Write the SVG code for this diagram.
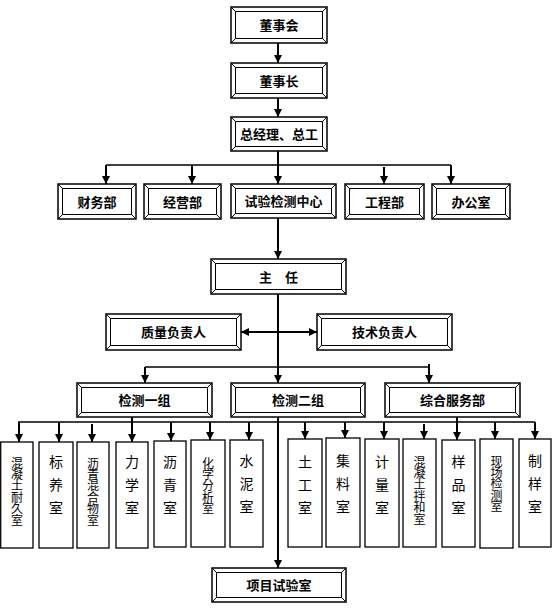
<svg xmlns="http://www.w3.org/2000/svg" width="552" height="608" viewBox="0 0 552 608">
<defs>
<marker id="ah" viewBox="0 0 8 8" refX="8" refY="4" markerWidth="8" markerHeight="8" markerUnits="userSpaceOnUse" orient="auto"><path d="M0,0 L8,4 L0,8 z" fill="#000"/></marker>
<marker id="ah2" viewBox="0 0 8 8" refX="8" refY="4" markerWidth="8" markerHeight="8" markerUnits="userSpaceOnUse" orient="auto-start-reverse"><path d="M0,0 L8,4 L0,8 z" fill="#000"/></marker>
</defs>
<style>
.o{fill:#fff;stroke:#000;stroke-width:1.5}
.i{fill:none;stroke:#000;stroke-width:1}
.d{fill:none;stroke:#000;stroke-width:1}
.s{fill:#fff;stroke:#000;stroke-width:1.3}
.t{font-family:"Noto Sans CJK SC","Noto Sans",sans-serif;font-size:13px;font-weight:700;text-anchor:middle;fill:#000}
.v{font-family:"Noto Sans CJK SC","Noto Sans",sans-serif;font-size:14px;writing-mode:vertical-rl;letter-spacing:9px;fill:#000}
.v2{font-family:"Noto Sans CJK SC","Noto Sans",sans-serif;font-size:12px;writing-mode:vertical-rl;letter-spacing:-0.6px;fill:#000}
.l{fill:none;stroke:#000;stroke-width:2}
.h{fill:none;stroke:#000;stroke-width:1.5}
</style>
<rect width="552" height="608" fill="#fff"/>

<g id="connectors">
<path class="l" d="M278,43 V63" marker-end="url(#ah)"/>
<path class="l" d="M278,98 V117" marker-end="url(#ah)"/>
<path class="h" d="M106,165 H451"/>
<path class="l" d="M278,151 V184" marker-end="url(#ah)"/>
<path class="l" d="M106,165 V184" marker-end="url(#ah)"/>
<path class="l" d="M192,165 V184" marker-end="url(#ah)"/>
<path class="l" d="M384,167 V184" marker-end="url(#ah)"/>
<path class="l" d="M451,165 V184" marker-end="url(#ah)"/>
<path class="l" d="M278,218 V259" marker-end="url(#ah)"/>
<path class="l" d="M278,294 V383" marker-end="url(#ah)"/>
<path class="l" d="M241,332 H317" marker-start="url(#ah2)" marker-end="url(#ah2)"/>
<path class="h" d="M145,367 H429"/>
<path class="l" d="M145,367 V383" marker-end="url(#ah)"/>
<path class="l" d="M429,364 V383" marker-end="url(#ah)"/>
<path class="h" d="M18,422 H535"/>
<path class="l" d="M132,417 V442" marker-end="url(#ah)"/>
<path class="l" d="M278,417 V568" marker-end="url(#ah)"/>
<path class="l" d="M457,417 V440" marker-end="url(#ah)"/>
<path class="l" d="M19,422 V442" marker-end="url(#ah)"/>
<path class="l" d="M59,422 V442" marker-end="url(#ah)"/>
<path class="l" d="M92,424 V442" marker-end="url(#ah)"/>
<path class="l" d="M171,422 V441" marker-end="url(#ah)"/>
<path class="l" d="M210,422 V440" marker-end="url(#ah)"/>
<path class="l" d="M249,422 V440" marker-end="url(#ah)"/>
<path class="l" d="M305,422 V439" marker-end="url(#ah)"/>
<path class="l" d="M345,422 V438" marker-end="url(#ah)"/>
<path class="l" d="M384,422 V439" marker-end="url(#ah)"/>
<path class="l" d="M424,424 V439" marker-end="url(#ah)"/>
<path class="l" d="M495,422 V439" marker-end="url(#ah)"/>
<path class="l" d="M535,422 V439" marker-end="url(#ah)"/>
</g>

<g id="n-dongshihui">
<rect class="o" x="231" y="7" width="96" height="36"/><rect class="i" x="235.5" y="11.5" width="87" height="27"/>
<path class="d" d="M231,7 L235.5,11.5 M327,7 L322.5,11.5 M231,43 L235.5,38.5 M327,43 L322.5,38.5"/>
<text class="t" x="279" y="30">董事会</text>
</g>
<g id="n-dongshizhang">
<rect class="o" x="231" y="63" width="96" height="35"/><rect class="i" x="235.5" y="67.5" width="87" height="26"/>
<path class="d" d="M231,63 L235.5,67.5 M327,63 L322.5,67.5 M231,98 L235.5,93.5 M327,98 L322.5,93.5"/>
<text class="t" x="279" y="85.5">董事长</text>
</g>
<g id="n-zongjingli">
<rect class="o" x="231" y="117" width="96" height="34"/><rect class="i" x="235.5" y="121.5" width="87" height="25"/>
<path class="d" d="M231,117 L235.5,121.5 M327,117 L322.5,121.5 M231,151 L235.5,146.5 M327,151 L322.5,146.5"/>
<text class="t" x="279" y="139">总经理、总工</text>
</g>
<g id="n-caiwubu">
<rect class="o" x="58" y="184" width="78" height="35"/><rect class="i" x="62.5" y="188.5" width="69" height="26"/>
<path class="d" d="M58,184 L62.5,188.5 M136,184 L131.5,188.5 M58,219 L62.5,214.5 M136,219 L131.5,214.5"/>
<text class="t" x="97" y="206.5">财务部</text>
</g>
<g id="n-jingyingbu">
<rect class="o" x="144" y="184" width="77" height="35"/><rect class="i" x="148.5" y="188.5" width="68" height="26"/>
<path class="d" d="M144,184 L148.5,188.5 M221,184 L216.5,188.5 M144,219 L148.5,214.5 M221,219 L216.5,214.5"/>
<text class="t" x="182.5" y="206.5">经营部</text>
</g>
<g id="n-shiyanjiance">
<rect class="o" x="231" y="184" width="105" height="34"/><rect class="i" x="235.5" y="188.5" width="96" height="25"/>
<path class="d" d="M231,184 L235.5,188.5 M336,184 L331.5,188.5 M231,218 L235.5,213.5 M336,218 L331.5,213.5"/>
<text class="t" x="283.5" y="206">试验检测中心</text>
</g>
<g id="n-gongchengbu">
<rect class="o" x="345" y="184" width="79" height="35"/><rect class="i" x="349.5" y="188.5" width="70" height="26"/>
<path class="d" d="M345,184 L349.5,188.5 M424,184 L419.5,188.5 M345,219 L349.5,214.5 M424,219 L419.5,214.5"/>
<text class="t" x="384.5" y="206.5">工程部</text>
</g>
<g id="n-bangongshi">
<rect class="o" x="432" y="184" width="78" height="35"/><rect class="i" x="436.5" y="188.5" width="69" height="26"/>
<path class="d" d="M432,184 L436.5,188.5 M510,184 L505.5,188.5 M432,219 L436.5,214.5 M510,219 L505.5,214.5"/>
<text class="t" x="471" y="206.5">办公室</text>
</g>
<g id="n-zhuren">
<rect class="o" x="211" y="259" width="135" height="35"/><rect class="i" x="215.5" y="263.5" width="126" height="26"/>
<path class="d" d="M211,259 L215.5,263.5 M346,259 L341.5,263.5 M211,294 L215.5,289.5 M346,294 L341.5,289.5"/>
<text class="t" x="278.5" y="281.5">主　任</text>
</g>
<g id="n-zhiliang">
<rect class="o" x="106" y="314" width="135" height="36"/><rect class="i" x="110.5" y="318.5" width="126" height="27"/>
<path class="d" d="M106,314 L110.5,318.5 M241,314 L236.5,318.5 M106,350 L110.5,345.5 M241,350 L236.5,345.5"/>
<text class="t" x="173.5" y="337">质量负责人</text>
</g>
<g id="n-jishu">
<rect class="o" x="317" y="314" width="135" height="36"/><rect class="i" x="321.5" y="318.5" width="126" height="27"/>
<path class="d" d="M317,314 L321.5,318.5 M452,314 L447.5,318.5 M317,350 L321.5,345.5 M452,350 L447.5,345.5"/>
<text class="t" x="384.5" y="337">技术负责人</text>
</g>
<g id="n-jiance1">
<rect class="o" x="77" y="383" width="135" height="34"/><rect class="i" x="81.5" y="387.5" width="126" height="25"/>
<path class="d" d="M77,383 L81.5,387.5 M212,383 L207.5,387.5 M77,417 L81.5,412.5 M212,417 L207.5,412.5"/>
<text class="t" x="144.5" y="405">检测一组</text>
</g>
<g id="n-jiance2">
<rect class="o" x="231" y="383" width="134" height="34"/><rect class="i" x="235.5" y="387.5" width="125" height="25"/>
<path class="d" d="M231,383 L235.5,387.5 M365,383 L360.5,387.5 M231,417 L235.5,412.5 M365,417 L360.5,412.5"/>
<text class="t" x="298" y="405">检测二组</text>
</g>
<g id="n-zonghe">
<rect class="o" x="385" y="383" width="135" height="34"/><rect class="i" x="389.5" y="387.5" width="126" height="25"/>
<path class="d" d="M385,383 L389.5,387.5 M520,383 L515.5,387.5 M385,417 L389.5,412.5 M520,417 L515.5,412.5"/>
<text class="t" x="452.5" y="405">综合服务部</text>
</g>
<g id="n-xiangmu">
<rect class="o" x="212" y="568" width="134" height="34"/><rect class="i" x="216.5" y="572.5" width="125" height="25"/>
<path class="d" d="M212,568 L216.5,572.5 M346,568 L341.5,572.5 M212,602 L216.5,597.5 M346,602 L341.5,597.5"/>
<text class="t" x="279" y="590">项目试验室</text>
</g>

<g id="r1"><rect class="s" x="0.7" y="442" width="32.3" height="106"/><text class="v2" x="17" y="457">混凝土耐久室</text></g>
<g id="r2"><rect class="s" x="39" y="442" width="34" height="106"/><text class="v" x="56" y="455">标养室</text></g>
<g id="r3"><rect class="s" x="77" y="442" width="32" height="106"/><text class="v2" x="93" y="457">沥青混合物室</text></g>
<g id="r4"><rect class="s" x="116" y="442" width="32" height="106"/><text class="v" x="132" y="455">力学室</text></g>
<g id="r5"><rect class="s" x="154" y="441" width="32" height="106"/><text class="v" x="170" y="455">沥青室</text></g>
<g id="r6"><rect class="s" x="191" y="440" width="34" height="107"/><text class="v2" x="208" y="457">化学分析室</text></g>
<g id="r7"><rect class="s" x="230" y="440" width="33" height="107"/><text class="v" x="246.5" y="454">水泥室</text></g>
<g id="r8"><rect class="s" x="288" y="439" width="34" height="108"/><text class="v" x="305" y="455">土工室</text></g>
<g id="r9"><rect class="s" x="326" y="438" width="34" height="109"/><text class="v" x="343" y="454">集料室</text></g>
<g id="r10"><rect class="s" x="365" y="439" width="34" height="108"/><text class="v" x="382" y="455">计量室</text></g>
<g id="r11"><rect class="s" x="403" y="439" width="33" height="108"/><text class="v2" x="419.5" y="456">混凝土拌和室</text></g>
<g id="r12"><rect class="s" x="442" y="440" width="33" height="107"/><text class="v" x="458.5" y="455">样品室</text></g>
<g id="r13"><rect class="s" x="480" y="439" width="33" height="109"/><text class="v2" x="496.5" y="455">现场检测室</text></g>
<g id="r14"><rect class="s" x="519" y="439" width="32" height="108"/><text class="v" x="535" y="454">制样室</text></g>
</svg>
